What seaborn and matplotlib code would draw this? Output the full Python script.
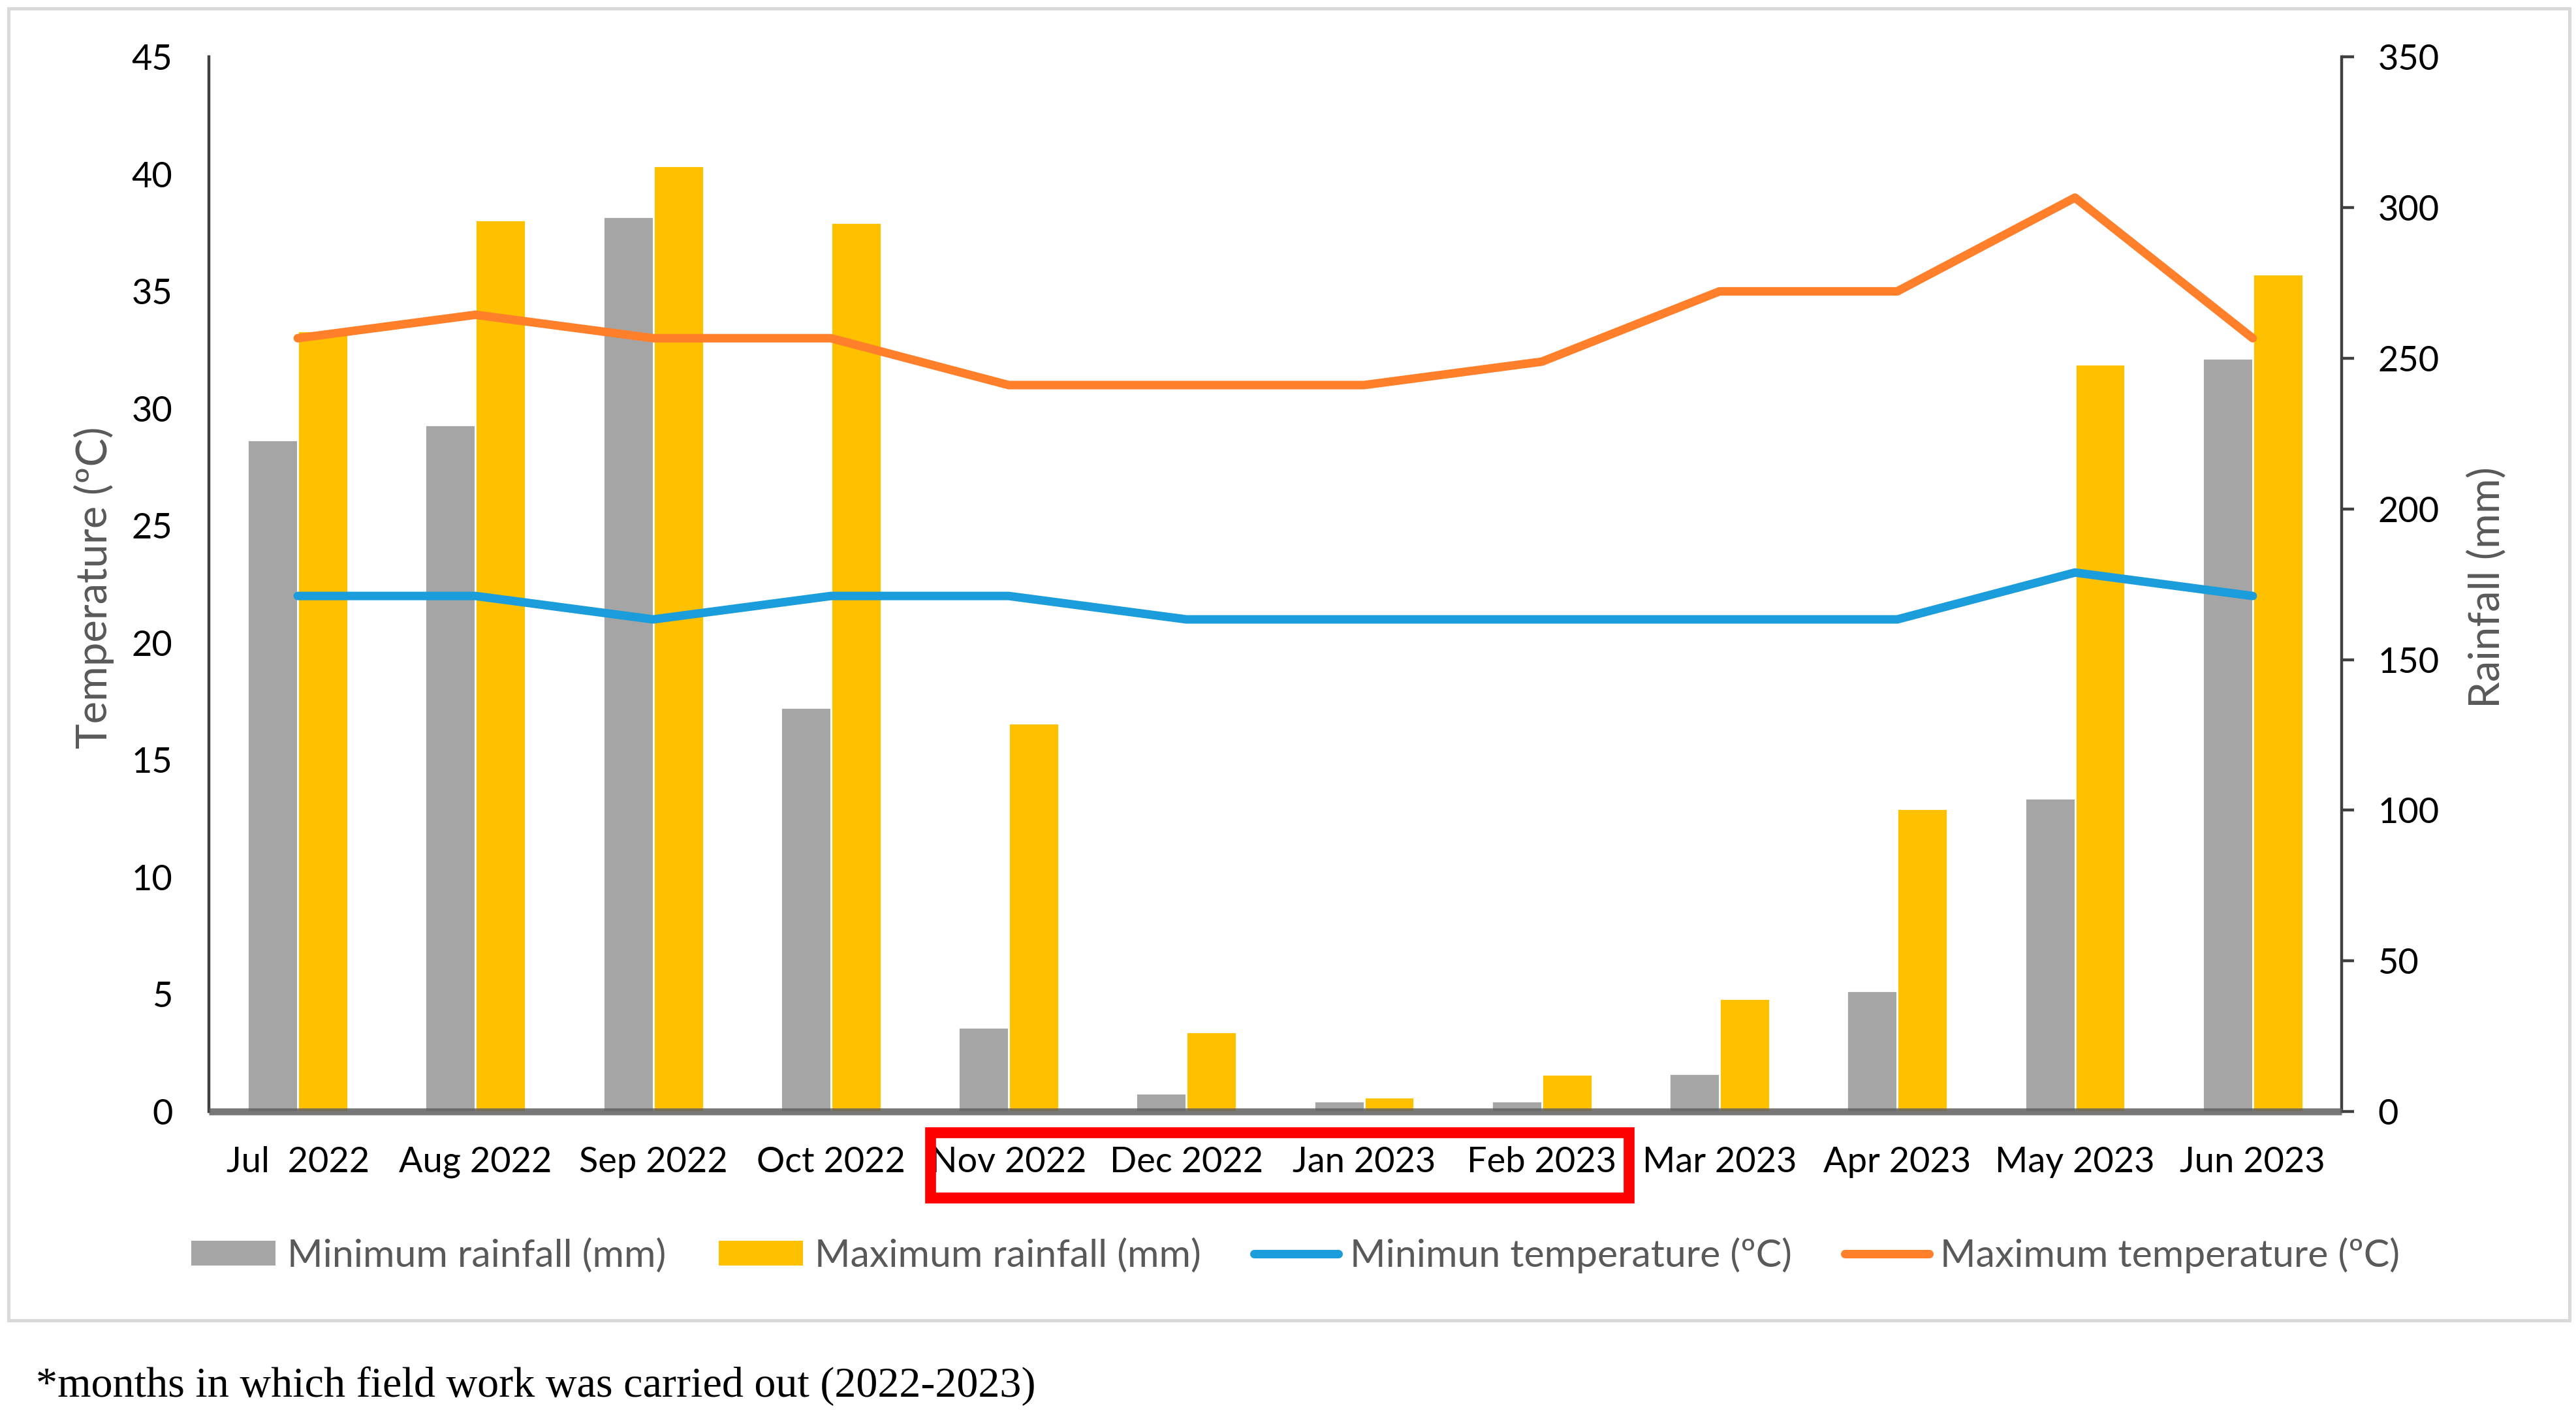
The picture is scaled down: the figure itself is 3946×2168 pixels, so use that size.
import numpy as np
import pandas as pd
import seaborn as sns
import matplotlib.pyplot as plt
from matplotlib.patches import Patch, Rectangle
from matplotlib.lines import Line2D
import matplotlib.transforms as mtransforms

# Dados
meses = ["Jul  2022", "Aug 2022", "Sep 2022", "Oct 2022", "Nov 2022", "Dec 2022",
         "Jan 2023", "Feb 2023", "Mar 2023", "Apr 2023", "May 2023", "Jun 2023"]
chuva_min = [223, 228, 297, 134, 28, 6, 3.5, 3.5, 12.5, 40, 104, 250]
chuva_max = [259, 296, 314, 295, 129, 26.5, 4.7, 12.3, 37.5, 100.5, 248, 278]
temp_min = [22, 22, 21, 22, 22, 21, 21, 21, 21, 21, 23, 22]
temp_max = [33, 34, 33, 33, 31, 31, 31, 32, 35, 35, 39, 33]

series_chuva = ["Minimum rainfall (mm)", "Maximum rainfall (mm)"]
series_temp = ["Minimun temperature (ºC)", "Maximum temperature (ºC)"]

cinza = "#A5A5A5"
amarelo = "#FFC000"
azul = "#1B9DDB"
laranja = "#FF7F2A"

df_chuva = pd.DataFrame({"mes": meses, series_chuva[0]: chuva_min, series_chuva[1]: chuva_max})
df_chuva = df_chuva.melt(id_vars="mes", var_name="serie", value_name="mm")
df_temp = pd.DataFrame({"mes": meses, "tmin": temp_min, "tmax": temp_max})

sns.set_theme(style="white")
plt.rcParams['font.family'] = ['Lato', 'DejaVu Sans']

fig = plt.figure(figsize=(19.73, 10.84), dpi=200)
ax = fig.add_axes([0.0811, 0.2145, 0.8279, 0.7452])

# Barras de chuva (eixo da direita)
sns.barplot(data=df_chuva, x="mes", y="mm", hue="serie", order=meses, hue_order=series_chuva,
            palette=[cinza, amarelo], width=0.565, saturation=1, errorbar=None,
            legend=False, ax=ax)
ax.set_ylim(0, 350)
ax.set_yticks(np.arange(0, 351, 50))
ax.set_xlim(-0.5, len(meses) - 0.5)

# Linhas de temperatura (eixo da esquerda)
ax_t = ax.twinx()
sns.pointplot(data=df_temp, x="mes", y="tmin", order=meses, color=azul, markers="",
              linestyles="-", errorbar=None, linewidth=4.7, ax=ax_t)
sns.pointplot(data=df_temp, x="mes", y="tmax", order=meses, color=laranja, markers="",
              linestyles="-", errorbar=None, linewidth=4.7, ax=ax_t)
ax_t.set_ylim(0, 45)
ax_t.set_yticks(np.arange(0, 46, 5))
ax_t.set_xlim(-0.5, len(meses) - 0.5)

# linha de base cinzenta por cima das barras
ax_t.plot([0, 1], [0, 0], transform=ax_t.transAxes, color="#5F5F5F", alpha=0.85,
          linewidth=3.8, solid_capstyle="butt", clip_on=False, zorder=3)

ax.yaxis.tick_right()
ax.yaxis.set_label_position("right")
ax_t.yaxis.tick_left()
ax_t.yaxis.set_label_position("left")

for s in ["top", "left", "bottom"]:
    ax.spines[s].set_visible(False)
for s in ["top", "right", "bottom"]:
    ax_t.spines[s].set_visible(False)
ax.spines["right"].set_color("#404040")
ax.spines["right"].set_linewidth(1.6)
ax_t.spines["left"].set_color("#404040")
ax_t.spines["left"].set_linewidth(1.6)

ax.tick_params(axis="y", which="both", right=True, length=7, width=1.6, color="#404040",
               pad=13, labelsize=19.5, labelcolor="#000000")
ax.tick_params(axis="x", length=0, pad=19, labelsize=19.5, labelcolor="#000000")
ax_t.tick_params(axis="y", length=0, pad=20, labelsize=19.5, labelcolor="#000000")

ax.set_xlabel("")
ax_t.set_xlabel("")
ax.set_ylabel("Rainfall (mm)", fontsize=23.5, color="#595959")
ax_t.set_ylabel("Temperature (ºC)", fontsize=23.5, color="#595959")
ax_t.yaxis.set_label_coords(-0.0539, 0.497)
ax.yaxis.set_label_coords(1.068, 0.497)
ax_t.yaxis.label.set_va("center")
ax.yaxis.label.set_va("center")

ax.set_zorder(1)
ax_t.set_zorder(2)

# Destaque dos meses de trabalho de campo
trans = mtransforms.blended_transform_factory(ax.transData, ax.transAxes)
ax.add_patch(Rectangle((3.56, -0.0817), 7.49 - 3.56, 0.0619, transform=trans,
                       fill=False, edgecolor="#FF0000", linewidth=6, clip_on=False))

# Legenda
handles = [Patch(facecolor=cinza, edgecolor="none"),
           Patch(facecolor=amarelo, edgecolor="none"),
           Line2D([0], [0], color=azul, linewidth=4.7),
           Line2D([0], [0], color=laranja, linewidth=4.7)]
leg = fig.legend(handles, series_chuva + series_temp, loc="center", bbox_to_anchor=(0.503, 0.113),
                 ncol=4, frameon=False, fontsize=21.2, handlelength=2.19, handleheight=0.6,
                 handletextpad=0.3, columnspacing=1.38)
for t in leg.get_texts():
    t.set_color("#595959")

# Moldura externa
fig.patches.append(Rectangle((0.0033, 0.0669), 0.9942, 0.927, transform=fig.transFigure,
                             fill=False, edgecolor="#D9D9D9", linewidth=1.8))

fig.text(55 / 3946, 1 - 2124 / 2168, "*months in which field work was carried out (2022-2023)",
         fontsize=23.8, family=["Liberation Serif", "DejaVu Serif"], ha="left", va="center",
         color="#000000")

fig.savefig("out.png", dpi=200)
